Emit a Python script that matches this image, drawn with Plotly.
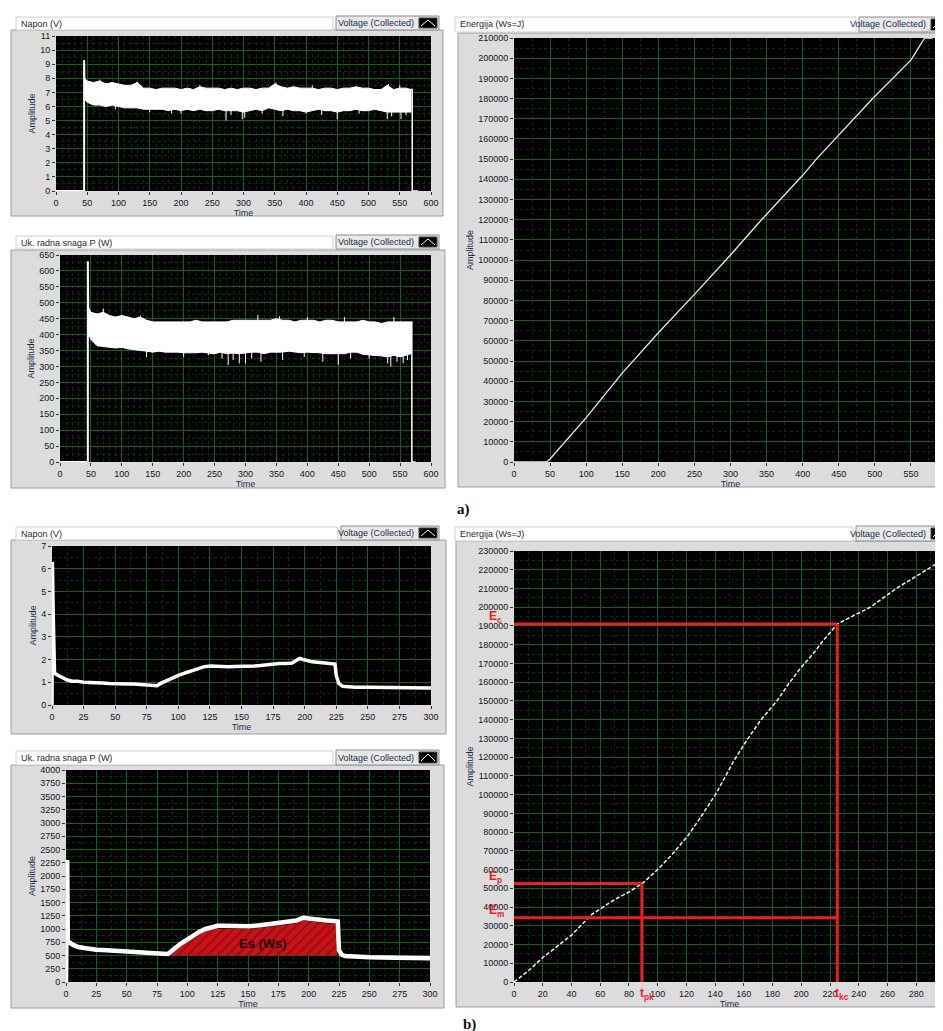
import plotly.graph_objects as go

W, H = 943, 1031

# ---------------- DATA ----------------
# (a) common sample times of the noisy band (s)
A_T = [46, 50, 60, 70, 80, 90, 100, 110, 120, 130, 140, 150, 160, 170, 180, 190, 200, 210,
       220, 230, 240, 250, 260, 270, 280, 290, 300, 310, 320, 330, 340, 350, 360, 370, 380,
       390, 400, 410, 420, 430, 440, 450, 460, 470, 480, 490, 500, 510, 520, 530, 540, 550,
       560, 568]

# (a) Napon (V): upper / lower envelope of the band
A_U_UP = [8.0, 7.8, 7.7, 7.8, 7.6, 7.7, 7.6, 7.5, 7.5, 7.7,
          7.3, 7.3, 7.2, 7.3, 7.3, 7.3, 7.2, 7.3, 7.2, 7.4,
          7.3, 7.3, 7.3, 7.2, 7.3, 7.2, 7.3, 7.3, 7.2, 7.3,
          7.3, 7.6, 7.4, 7.3, 7.4, 7.3, 7.3, 7.3, 7.2, 7.3,
          7.3, 7.2, 7.3, 7.3, 7.4, 7.3, 7.3, 7.2, 7.2, 7.5,
          7.2, 7.3, 7.3, 7.2]
A_U_LO = [6.5, 6.3, 6.1, 6.1, 6.0, 6.1, 6.0, 5.9, 5.9, 5.9,
          5.8, 5.8, 5.8, 5.8, 5.7, 5.8, 5.7, 5.8, 5.7, 5.8,
          5.7, 5.7, 5.8, 5.7, 5.7, 5.7, 5.6, 5.7, 5.8, 5.7,
          5.9, 5.8, 5.7, 5.8, 5.7, 5.7, 5.6, 5.7, 5.8, 5.7,
          5.7, 5.6, 5.7, 5.7, 5.8, 5.7, 5.7, 5.8, 5.7, 5.6,
          5.6, 5.6, 5.6, 5.6]
A_U_SPIKE_T = [70, 95, 130, 150, 185, 200, 230, 272, 280, 298, 302, 330, 352, 363, 400, 410,
               425, 450, 485, 530, 532, 537, 550, 552, 560]
A_U_SPIKE_V = [7.9, 5.8, 7.75, 5.6, 5.5, 5.5, 7.5, 5.0, 5.4, 5.1, 5.2, 5.5, 7.7, 5.3, 5.5, 7.5,
               5.4, 5.1, 5.5, 5.1, 7.6, 5.3, 7.5, 5.1, 5.4]
A_U_START_T = [0, 45, 45, 46]
A_U_START_V = [0, 0, 9.3, 6.6]
A_U_END_T = [568, 570, 570, 580]
A_U_END_V = [7.2, 7.2, 0, 0]

# (a) Uk. radna snaga P (W)
A_P_UP = [485, 470, 465, 470, 460, 455, 460, 455, 450, 455,
          445, 440, 440, 440, 440, 440, 440, 440, 445, 440,
          440, 440, 440, 440, 445, 445, 445, 445, 445, 445,
          445, 450, 445, 445, 440, 445, 445, 445, 440, 445,
          445, 440, 440, 440, 440, 445, 440, 440, 435, 440,
          440, 440, 440, 440]
A_P_LO = [400, 385, 365, 362, 360, 358, 360, 355, 352, 350,
          348, 345, 348, 345, 345, 345, 343, 342, 343, 345,
          342, 340, 345, 340, 342, 340, 342, 345, 345, 340,
          345, 345, 345, 348, 345, 343, 345, 345, 343, 340,
          342, 340, 340, 345, 345, 338, 335, 335, 333, 330,
          335, 330, 335, 340]
A_P_SPIKE_T = [70, 130, 140, 200, 240, 262, 272, 280, 290, 300, 310, 320, 325, 355, 360, 395,
               400, 425, 450, 460, 470, 500, 530, 535, 540, 545, 555, 562]
A_P_SPIKE_V = [482, 460, 330, 330, 335, 325, 305, 320, 310, 310, 325, 462, 315, 458, 320, 330,
               455, 315, 305, 455, 325, 325, 310, 300, 455, 315, 310, 320]
A_P_START_T = [0, 45, 45, 46]
A_P_START_V = [0, 0, 630, 400]
A_P_END_T = [568, 569, 569, 575]
A_P_END_V = [440, 440, 0, 0]

# (a) Energija (Ws=J)
A_E_T = [0, 45, 50, 100, 150, 200, 250, 300, 343, 400, 419, 450, 497, 550, 569, 580]
A_E_V = [0, 0, 1500, 22000, 44000, 64000, 83000, 102500, 120000, 142000, 150000, 162000,
         180000, 199000, 210000, 210000]

# (b) Napon (V)
B_U_T = [0, 0.3, 1, 2, 5, 8, 12, 16, 20, 25, 30, 35, 40, 45, 50, 55, 60, 65, 70, 75, 80, 83,
         86, 90, 95, 100, 105, 110, 115, 120, 125, 130, 135, 140, 145, 150, 155, 160, 165,
         170, 175, 180, 185, 190, 193, 196, 199, 202, 206, 210, 215, 220, 224, 225, 227, 230,
         235, 240, 250, 260, 270, 280, 290, 300]
B_U_V = [0, 6.3, 3.9, 1.4, 1.3, 1.2, 1.1, 1.05, 1.05, 1.0, 1.0, 0.97, 0.97, 0.95, 0.93, 0.93,
         0.92, 0.92, 0.9, 0.88, 0.87, 0.85, 0.95, 1.05, 1.2, 1.3, 1.4, 1.5, 1.62, 1.68, 1.72,
         1.7, 1.7, 1.68, 1.7, 1.7, 1.72, 1.72, 1.74, 1.78, 1.8, 1.83, 1.83, 1.85, 1.95, 2.05,
         2.0, 1.95, 1.9, 1.88, 1.85, 1.82, 1.8, 1.3, 0.95, 0.82, 0.8, 0.78, 0.78, 0.77, 0.77,
         0.76, 0.76, 0.75]

# (b) Uk. radna snaga P (W)
B_P_T = [0, 1, 1.5, 3, 6, 10, 15, 20, 25, 30, 35, 40, 45, 50, 55, 60, 65, 70, 75, 80, 84, 86,
         90, 95, 100, 105, 110, 115, 120, 125, 130, 140, 150, 160, 170, 175, 180, 185, 190,
         193, 196, 200, 205, 210, 215, 220, 224, 225, 227, 230, 240, 250, 260, 270, 280, 290, 300]
B_P_V = [0, 2300, 780, 740, 700, 660, 640, 620, 610, 605, 600, 595, 585, 575, 565, 560, 555,
         545, 540, 535, 530, 560, 640, 730, 810, 880, 950, 1000, 1040, 1060, 1060, 1050, 1050,
         1070, 1100, 1120, 1130, 1140, 1160, 1190, 1210, 1200, 1180, 1170, 1160, 1150, 1140,
         600, 520, 490, 470, 465, 460, 455, 455, 450, 450]
ES_T = [86, 90, 95, 100, 105, 110, 115, 120, 125, 130, 140, 150, 160, 170, 175, 180, 185, 190,
        193, 196, 200, 205, 210, 215, 220, 224]
ES_TOP = [540, 600, 690, 770, 840, 910, 960, 1000, 1010, 1010, 1000, 1000, 1020, 1050, 1070,
          1080, 1090, 1110, 1140, 1160, 1150, 1130, 1120, 1110, 1100, 1090]
ES_BASE = 500
ES_LABEL = "Es (Ws)"

# (b) Energija (Ws=J)
B_E_T = [0, 10, 20, 30, 40, 54, 70, 80, 90, 100, 110, 121, 130, 141, 153, 162, 172, 183, 192,
         200, 208, 215, 225, 235, 248, 266, 287, 298]
B_E_V = [0, 6000, 13000, 19000, 25000, 36000, 44000, 48000, 53000, 60000, 68000, 78000, 88000,
         101000, 118000, 129000, 140000, 150000, 160000, 168000, 175000, 182000, 191000,
         195000, 200000, 210000, 220000, 225000]
E_C, E_P, E_M = 191000, 52500, 34300
T_PK, T_KC = 89, 225

PANEL_TITLES = ["Napon (V)", "Uk. radna snaga P (W)", "Energija (Ws=J)",
                "Napon (V)", "Uk. radna snaga P (W)", "Energija (Ws=J)"]
LEGEND_TEXT = "Voltage (Collected)"

# ---------------- LAYOUT GEOMETRY (pixels) ----------------
PANELS = [
    dict(plot=(48, 423, 28, 183), frame=(3, 435, 22, 208), tbox=(8, 325, 9, 22), lbox=(328, 431, 8, 22),
         xr=[0, 600], xdt=50, xmin=10, yr=[0, 11], ydt=1, ymin=0.5),
    dict(plot=(52, 423, 247, 454), frame=(3, 437, 242, 480), tbox=(8, 325, 228, 241), lbox=(328, 431, 227, 241),
         xr=[0, 600], xdt=50, xmin=10, yr=[0, 650], ydt=50, ymin=25),
    dict(plot=(506, 939, 30, 454), frame=(450, 943, 25, 479), tbox=(447, 848, 9, 24), lbox=(851, 943, 9, 24),
         xr=[0, 600], xdt=50, xmin=25, yr=[0, 210000], ydt=10000, ymin=5000),
    dict(plot=(44, 423, 538, 697), frame=(3, 438, 532, 726), tbox=(8, 330, 519, 532), lbox=(333, 431, 518, 532),
         xr=[0, 300], xdt=25, xmin=12.5, yr=[0, 7], ydt=1, ymin=0.5),
    dict(plot=(58, 422, 762, 974), frame=(3, 436, 757, 1000), tbox=(8, 325, 743, 757), lbox=(328, 431, 742, 757),
         xr=[0, 300], xdt=25, xmin=12.5, yr=[0, 4000], ydt=250, ymin=125),
    dict(plot=(506, 937, 543, 974), frame=(448, 943, 533, 999), tbox=(447, 845, 519, 533), lbox=(848, 943, 518, 533),
         xr=[0, 300], xdt=20, xmin=10, yr=[0, 230000], ydt=10000, ymin=5000),
]

GRID = "#12601a"
MINOR = "#0b2e0b"
TICKFONT = dict(family="Liberation Sans, Arial, sans-serif", size=9, color="#151515")
TITLEFONT = dict(family="Liberation Sans, Arial, sans-serif", size=9, color="#1d2a4a")


def px(x):
    return x / W


def py(y):
    return 1 - y / H


fig = go.Figure()
layout = dict(width=W, height=H, margin=dict(l=0, r=0, t=0, b=0),
              paper_bgcolor="white", plot_bgcolor="black", showlegend=False)
shapes = []
annotations = []

for i, p in enumerate(PANELS, start=1):
    sx = "" if i == 1 else str(i)
    x0, x1, y0, y1 = p["plot"]
    common = dict(showgrid=True, gridcolor=GRID, gridwidth=1, zeroline=False, showline=False,
                  ticks="outside", ticklen=3, tickcolor="#333", tickfont=TICKFONT,
                  automargin=False, tickformat="d", fixedrange=True, tick0=0)
    layout["xaxis" + sx] = dict(
        domain=[px(x0), px(x1)], range=p["xr"], dtick=p["xdt"], anchor="y" + sx,
        title=dict(text="Time", font=TITLEFONT, standoff=1),
        minor=dict(dtick=p["xmin"], showgrid=True, gridcolor=MINOR, griddash="dot"), **common)
    layout["yaxis" + sx] = dict(
        domain=[py(y1), py(y0)], range=p["yr"], dtick=p["ydt"], anchor="x" + sx,
        title=dict(text="Amplitude", font=TITLEFONT, standoff=3),
        minor=dict(dtick=p["ymin"], showgrid=True, gridcolor=MINOR, griddash="dot"), **common)

    # panel frame
    fx0, fx1, fy0, fy1 = p["frame"]
    shapes.append(dict(type="rect", xref="paper", yref="paper", layer="below",
                       x0=px(fx0), x1=px(fx1), y0=py(fy1), y1=py(fy0),
                       fillcolor="#dcdcdc", line=dict(color="#9c9c9c", width=1)))
    # black plot area
    shapes.append(dict(type="rect", xref="paper", yref="paper", layer="below",
                       x0=px(x0), x1=px(x1), y0=py(y1), y1=py(y0),
                       fillcolor="#000000", line=dict(width=0)))
    # title box
    tx0, tx1, ty0, ty1 = p["tbox"]
    shapes.append(dict(type="rect", xref="paper", yref="paper", layer="below",
                       x0=px(tx0), x1=px(tx1), y0=py(ty1), y1=py(ty0),
                       fillcolor="#ffffff", line=dict(color="#d0d0d0", width=1)))
    annotations.append(dict(xref="paper", yref="paper", x=px(tx0 + 3), y=py((ty0 + ty1) / 2),
                            text=PANEL_TITLES[i - 1], showarrow=False, xanchor="left",
                            yanchor="middle", font=dict(family="Liberation Sans, Arial", size=9,
                                                        color="#2a2a2a")))
    # legend box
    lx0, lx1, ly0, ly1 = p["lbox"]
    shapes.append(dict(type="rect", xref="paper", yref="paper", layer="below",
                       x0=px(lx0), x1=px(lx1), y0=py(ly1), y1=py(ly0),
                       fillcolor="#e9e9e9", line=dict(color="#8c8c8c", width=1)))
    ix0, ix1 = lx1 - 20, lx1 - 2
    shapes.append(dict(type="rect", xref="paper", yref="paper", layer="above",
                       x0=px(ix0), x1=px(ix1), y0=py(ly1 - 2), y1=py(ly0 + 2),
                       fillcolor="#000000", line=dict(color="#444", width=1)))
    shapes.append(dict(type="path", xref="paper", yref="paper", layer="above",
                       path="M {},{} L {},{} L {},{}".format(
                           px(ix0 + 2), py(ly1 - 4), px((ix0 + ix1) / 2), py(ly0 + 4),
                           px(ix1 - 2), py(ly1 - 4)),
                       line=dict(color="white", width=1)))
    annotations.append(dict(xref="paper", yref="paper", x=px(ix0 - 3), y=py((ly0 + ly1) / 2),
                            text=LEGEND_TEXT, showarrow=False, xanchor="right", yanchor="middle",
                            font=dict(family="Liberation Sans, Arial", size=9, color="#1d2a4a")))

WHITE = "#ffffff"


def band(t, up, lo, xa, ya):
    return go.Scatter(x=t + t[::-1], y=up + lo[::-1], mode="lines", fill="toself",
                      fillcolor=WHITE, line=dict(color=WHITE, width=1), xaxis=xa, yaxis=ya,
                      hoverinfo="skip")


def spikes(t, v, mid, xa, ya):
    xs, ys = [], []
    for a, b in zip(t, v):
        xs += [a, a, None]
        ys += [mid, b, None]
    return go.Scatter(x=xs, y=ys, mode="lines", line=dict(color=WHITE, width=1),
                      xaxis=xa, yaxis=ya, hoverinfo="skip")


def line(t, v, xa, ya, width=1.2, color=WHITE, dash="solid"):
    return go.Scatter(x=t, y=v, mode="lines", line=dict(color=color, width=width, dash=dash),
                      xaxis=xa, yaxis=ya, hoverinfo="skip")


# Panel 1
fig.add_trace(band(A_T, A_U_UP, A_U_LO, "x", "y"))
fig.add_trace(spikes(A_U_SPIKE_T, A_U_SPIKE_V, 6.5, "x", "y"))
fig.add_trace(line(A_U_START_T, A_U_START_V, "x", "y", 2))
fig.add_trace(line(A_U_END_T, A_U_END_V, "x", "y", 1.5))
# Panel 2
fig.add_trace(band(A_T, A_P_UP, A_P_LO, "x2", "y2"))
fig.add_trace(spikes(A_P_SPIKE_T, A_P_SPIKE_V, 400, "x2", "y2"))
fig.add_trace(line(A_P_START_T, A_P_START_V, "x2", "y2", 2))
fig.add_trace(line(A_P_END_T, A_P_END_V, "x2", "y2", 1.5))
# Panel 3
fig.add_trace(line(A_E_T, A_E_V, "x3", "y3", 1.3, "#e8e8e8"))
# Panel 4
fig.add_trace(line(B_U_T, B_U_V, "x4", "y4", 3.5))
# Panel 5
fig.add_trace(go.Scatter(x=ES_T + [ES_T[-1], ES_T[0]], y=ES_TOP + [ES_BASE, ES_BASE],
                         mode="lines", fill="toself", fillcolor="#c8121a",
                         fillpattern=dict(shape="/", bgcolor="#c8121a", fgcolor="#4a0000",
                                          size=7, solidity=0.2),
                         line=dict(color="#c8121a", width=0), xaxis="x5", yaxis="y5",
                         hoverinfo="skip"))
fig.add_trace(line(B_P_T, B_P_V, "x5", "y5", 4.5))
annotations.append(dict(xref="x5", yref="y5", x=162, y=720, text="<b>" + ES_LABEL + "</b>",
                        showarrow=False, font=dict(family="Liberation Sans, Arial", size=13,
                                                   color="#1a0505")))
# Panel 6
RED = "#ee1c25"
fig.add_trace(line(B_E_T, B_E_V, "x6", "y6", 1.5, "#f0f0f0", "4px,2px"))
for xs, ys in [([0, T_KC], [E_C, E_C]), ([T_KC, T_KC], [0, E_C]),
               ([0, T_PK], [E_P, E_P]), ([T_PK, T_PK], [0, E_P]),
               ([0, T_KC], [E_M, E_M])]:
    fig.add_trace(line(xs, ys, "x6", "y6", 3, RED))

RFONT = dict(family="Liberation Sans, Arial", size=12, color=RED)
for txt, yv in [("<b>E<sub>c</sub></b>", E_C), ("<b>E<sub>p</sub></b>", E_P), ("<b>E<sub>m</sub></b>", E_M)]:
    annotations.append(dict(xref="paper", yref="y6", x=px(479), y=yv, text=txt, showarrow=False,
                            xanchor="left", yanchor="bottom", yshift=-3, font=RFONT))
for txt, xv in [("<b>t<sub>pk</sub></b>", T_PK), ("<b>t<sub>kc</sub></b>", T_KC)]:
    annotations.append(dict(xref="x6", yref="paper", x=xv, y=py(986), text=txt, showarrow=False,
                            xanchor="left", yanchor="middle", xshift=-4, font=RFONT))

# figure part labels
for txt, xx, yy in [("<b>a)</b>", 447, 501), ("<b>b)</b>", 453, 1016)]:
    annotations.append(dict(xref="paper", yref="paper", x=px(xx), y=py(yy), text=txt,
                            showarrow=False, xanchor="left", yanchor="middle",
                            font=dict(family="Liberation Serif, Times New Roman, serif", size=15,
                                      color="#111")))

layout["shapes"] = shapes
layout["annotations"] = annotations
fig.update_layout(**layout)
fig.write_html("out.html")
